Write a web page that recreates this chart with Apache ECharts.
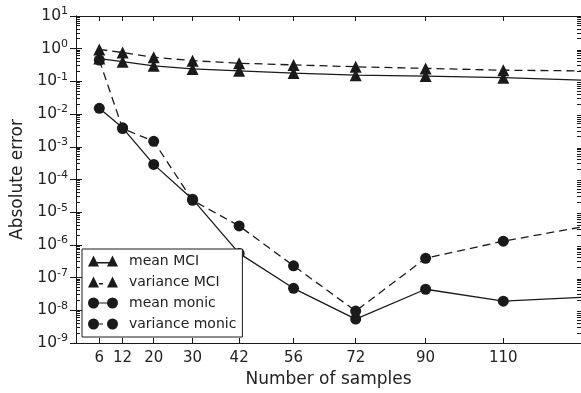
<!DOCTYPE html>
<html>
<head>
<meta charset="UTF-8">
<title>Absolute error</title>
<script src="https://cdn.jsdelivr.net/npm/echarts@6/dist/echarts.min.js"></script>
<style>
  html, body { margin: 0; padding: 0; background: #fff; }
</style>
</head>
<body>
<div id="main" style="width: 581px; height: 393px;"></div>
<script type="text/javascript">
// data
var samples = [6, 12, 20, 30, 42, 56, 72, 90, 110, 130];
var meanMCI = [0.5, 0.4, 0.30, 0.24, 0.21, 0.18, 0.155, 0.145, 0.13, 0.11];
var varianceMCI = [0.95, 0.76, 0.55, 0.43, 0.36, 0.32, 0.28, 0.25, 0.22, 0.21];
var meanMonic = [0.015, 0.0038, 2.9e-4, 2.5e-5, 5.5e-7, 4.7e-8, 5.4e-9, 4.4e-8, 1.9e-8, 2.5e-8];
var varianceMonic = [0.45, 0.0036, 1.47e-3, 2.3e-5, 3.8e-6, 2.3e-7, 9.5e-9, 3.9e-7, 1.3e-6, 3.5e-6];
var xTicks = [6, 12, 20, 30, 42, 56, 72, 90, 110];
var seriesNames = ['mean MCI', 'variance MCI', 'mean monic', 'variance monic'];

// minor ticks of the log axis: 2..9 in every decade, on the left (x=0) and right (x=130) spines
var minorTicks = [];
for (var e = -9; e < 1; e++) {
  for (var m = 2; m < 10; m++) {
    minorTicks.push([0, m * Math.pow(10, e)]);
    minorTicks.push([130, m * Math.pow(10, e)]);
  }
}

var ink = '#1a1a1a';
var font = 'DejaVu Sans';

// last point has no marker (curve runs off the plot)
function pairs(ys) {
  return ys.map(function (y, i) {
    var item = { value: [samples[i], y] };
    if (i === ys.length - 1) item.symbol = 'none';
    return item;
  });
}

// legend icons: marker - line - marker
var triSolid = 'path://M0 11L5.5 0L11 11ZM5.5 6.6L24.5 6.6L24.5 7.9L5.5 7.9ZM19 11L24.5 0L30 11Z';
var triDash = 'path://M0 11L5.5 0L11 11ZM11 6.6L15 6.6L15 7.9L11 7.9ZM19 11L24.5 0L30 11Z';
var dotSolid = 'path://M0 5.5A5.5 5.5 0 1 1 11 5.5A5.5 5.5 0 1 1 0 5.5ZM5.5 4.9L24.5 4.9L24.5 6.1L5.5 6.1ZM19 5.5A5.5 5.5 0 1 1 30 5.5A5.5 5.5 0 1 1 19 5.5Z';
var dotDash = 'path://M0 5.5A5.5 5.5 0 1 1 11 5.5A5.5 5.5 0 1 1 0 5.5ZM11 4.9L15 4.9L15 6.1L11 6.1ZM19 5.5A5.5 5.5 0 1 1 30 5.5A5.5 5.5 0 1 1 19 5.5Z';

function lineSeries(name, ys, symbol, size, dashed) {
  return {
    name: name,
    type: 'line',
    data: pairs(ys),
    symbol: symbol,
    symbolSize: size,
    showAllSymbol: true,
    itemStyle: { color: ink },
    lineStyle: { color: ink, width: 1.3, type: dashed ? [8, 5] : 'solid' },
    emphasis: { disabled: true },
    z: 3
  };
}

var myChart = echarts.init(document.getElementById('main'));

var option = {
  animation: false,
  textStyle: { fontFamily: font },
  grid: { left: 76, top: 16, right: -1, bottom: 49 },
  legend: {
    orient: 'vertical',
    left: 82,
    top: 249,
    padding: [5, 6, 6, 6],
    itemGap: 7,
    itemWidth: 30,
    itemHeight: 11,
    borderColor: ink,
    borderWidth: 1,
    borderRadius: 0,
    backgroundColor: '#fff',
    selectedMode: false,
    textStyle: { fontFamily: font, fontSize: 14, lineHeight: 14, color: '#222', padding: [0, 0, 0, 6] },
    data: [
      { name: seriesNames[0], icon: triSolid },
      { name: seriesNames[1], icon: triDash },
      { name: seriesNames[2], icon: dotSolid },
      { name: seriesNames[3], icon: dotDash }
    ],
    z: 10
  },
  xAxis: [
    {
      type: 'value',
      min: 0,
      max: 130,
      position: 'bottom',
      name: 'Number of samples',
      nameLocation: 'middle',
      nameGap: 28,
      nameTextStyle: { fontFamily: font, fontSize: 17, color: '#222' },
      axisLine: { lineStyle: { color: ink, width: 1 } },
      axisTick: { inside: true, length: 5, customValues: xTicks, lineStyle: { color: ink } },
      axisLabel: { customValues: xTicks, fontFamily: font, fontSize: 15, color: '#222', margin: 8 },
      splitLine: { show: false }
    },
    {
      type: 'value',
      min: 0,
      max: 130,
      position: 'top',
      axisLine: { lineStyle: { color: ink, width: 1 } },
      axisTick: { inside: true, length: 5, customValues: xTicks, lineStyle: { color: ink } },
      axisLabel: { show: false },
      splitLine: { show: false }
    }
  ],
  yAxis: [
    {
      type: 'log',
      logBase: 10,
      min: 1e-9,
      max: 10,
      interval: 1,
      position: 'left',
      name: 'Absolute error',
      nameLocation: 'middle',
      nameGap: 48,
      nameTextStyle: { fontFamily: font, fontSize: 17, color: '#222' },
      axisLine: { show: true, lineStyle: { color: ink, width: 1 } },
      axisTick: { inside: true, length: 6, lineStyle: { color: ink } },
      axisLabel: {
        margin: 8,
        color: '#222',
        formatter: function (v) {
          var exp = Math.round(Math.log10(v));
          return '{b|10}{s|' + exp + '}';
        },
        rich: {
          b: { fontFamily: font, fontSize: 15.5, color: '#222' },
          s: { fontFamily: font, fontSize: 11, color: '#222', padding: [0, 0, 9, 0] }
        }
      },
      splitLine: { show: false }
    },
    {
      type: 'log',
      logBase: 10,
      min: 1e-9,
      max: 10,
      interval: 1,
      position: 'right',
      axisLine: { show: true, lineStyle: { color: ink, width: 1 } },
      axisTick: { inside: true, length: 6, lineStyle: { color: ink } },
      axisLabel: { show: false },
      splitLine: { show: false }
    }
  ],
  series: [
    lineSeries(seriesNames[0], meanMCI, 'triangle', 12, false),
    lineSeries(seriesNames[1], varianceMCI, 'triangle', 12, true),
    lineSeries(seriesNames[2], meanMonic, 'circle', 11, false),
    lineSeries(seriesNames[3], varianceMonic, 'circle', 11, true),
    {
      type: 'custom',
      silent: true,
      clip: false,
      data: minorTicks,
      z: 5,
      renderItem: function (params, api) {
        var p = api.coord([api.value(0), api.value(1)]);
        var left = api.value(0) === 0;
        return {
          type: 'rect',
          shape: { x: left ? Math.round(p[0]) : Math.round(p[0]) - 4, y: Math.floor(p[1]), width: 4, height: 1 },
          style: { fill: ink }
        };
      }
    }
  ]
};

myChart.setOption(option);
</script>
</body>
</html>
